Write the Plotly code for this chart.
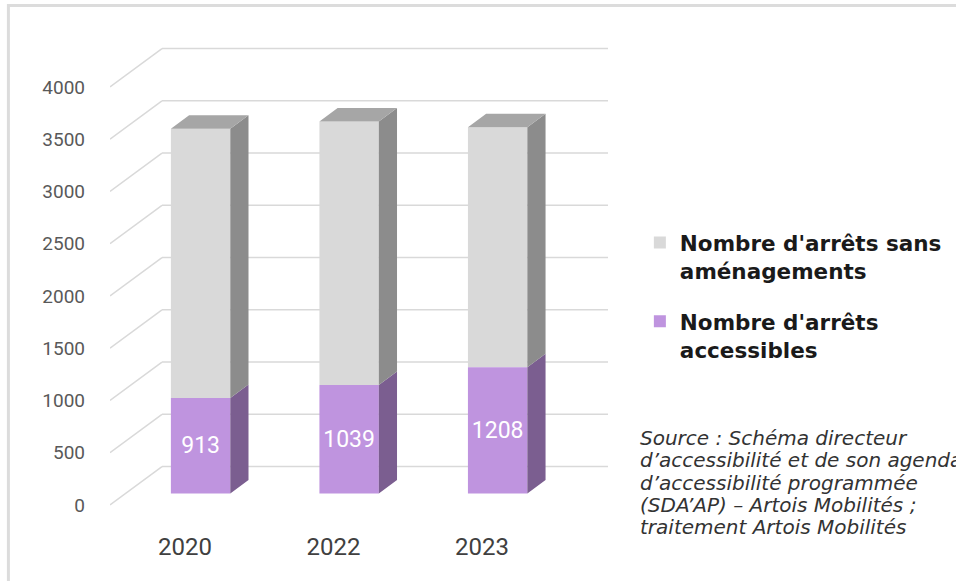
import plotly.graph_objects as go

# Données
annees = ["2020", "2022", "2023"]
accessibles = [913, 1039, 1208]
sans_amenagements = [2577, 2521, 2297]
graduations = [0, 500, 1000, 1500, 2000, 2500, 3000, 3500, 4000]

nom_sans = "Nombre d'arrêts sans<br>aménagements"
nom_acc = "Nombre d'arrêts<br>accessibles"
source_lignes = [
    "Source : Schéma directeur",
    "d’accessibilité et de son agenda",
    "d’accessibilité programmée",
    "(SDA’AP) – Artois Mobilités ;",
    "traitement Artois Mobilités",
]

# Couleurs
VIOLET, VIOLET_COTE = "#BF94DF", "#7B5E90"
GRIS, GRIS_COTE, GRIS_DESSUS = "#D9D9D9", "#8C8C8C", "#A6A6A6"
GRILLE = "#D9D9D9"

# Perspective "3D" (décalage de la profondeur en unités des axes)
DX = 0.35
DY = 368
P_AVANT, P_ARRIERE = 0.3, 0.65
LARGEUR = 0.4
X_MIN, X_MAX = -0.505, 2.848
Y_MIN, Y_MAX = -239, 4450


def proj(x, y, p):
    return x + p * DX, y + p * DY


def faces_cote(bas, haut):
    """Polygones des faces latérales (droite) pour chaque barre"""
    xs, ys = [], []
    for i, (lo, hi) in enumerate(zip(bas, haut)):
        xr = i + LARGEUR / 2
        for pt in [proj(xr, lo, P_AVANT), proj(xr, lo, P_ARRIERE),
                   proj(xr, hi, P_ARRIERE), proj(xr, hi, P_AVANT),
                   proj(xr, lo, P_AVANT)]:
            xs.append(pt[0])
            ys.append(pt[1])
        xs.append(None)
        ys.append(None)
    return xs, ys


def faces_dessus(haut):
    xs, ys = [], []
    for i, h in enumerate(haut):
        xl, xr = i - LARGEUR / 2, i + LARGEUR / 2
        for pt in [proj(xl, h, P_AVANT), proj(xr, h, P_AVANT),
                   proj(xr, h, P_ARRIERE), proj(xl, h, P_ARRIERE),
                   proj(xl, h, P_AVANT)]:
            xs.append(pt[0])
            ys.append(pt[1])
        xs.append(None)
        ys.append(None)
    return xs, ys


totaux = [a + s for a, s in zip(accessibles, sans_amenagements)]
x_avant = [proj(i, 0, P_AVANT)[0] for i in range(len(annees))]
base_avant = proj(0, 0, P_AVANT)[1]

fig = go.Figure()

fig.add_trace(go.Bar(
    x=x_avant, y=sans_amenagements,
    base=[base_avant + a for a in accessibles],
    width=LARGEUR, name=nom_sans, legendgroup="sans",
    marker=dict(color=GRIS, line=dict(width=0)),
    hoverinfo="skip",
))
fig.add_trace(go.Bar(
    x=x_avant, y=accessibles, base=[base_avant] * len(annees),
    width=LARGEUR, name=nom_acc, legendgroup="acc",
    marker=dict(color=VIOLET, line=dict(width=0)),
    text=[str(v) for v in accessibles], textposition="inside",
    insidetextanchor="middle", constraintext="none",
    textfont=dict(color="white", size=23, family="Roboto"),
    hoverinfo="skip",
))

cx, cy = faces_cote([0] * len(annees), accessibles)
fig.add_trace(go.Scatter(x=cx, y=cy, fill="toself", fillcolor=VIOLET_COTE,
                         mode="lines", line=dict(width=0), showlegend=False,
                         hoverinfo="skip"))
cx, cy = faces_cote(accessibles, totaux)
fig.add_trace(go.Scatter(x=cx, y=cy, fill="toself", fillcolor=GRIS_COTE,
                         mode="lines", line=dict(width=0), showlegend=False,
                         hoverinfo="skip"))
dx_, dy_ = faces_dessus(totaux)
fig.add_trace(go.Scatter(x=dx_, y=dy_, fill="toself", fillcolor=GRIS_DESSUS,
                         mode="lines", line=dict(width=0), showlegend=False,
                         hoverinfo="skip"))

# Quadrillage en perspective (paroi du fond + diagonales)
for v in graduations:
    x0, y0 = proj(X_MIN, v, 0)
    x1, y1 = proj(X_MIN, v, 1)
    fig.add_shape(type="line", x0=x0, y0=y0, x1=x1, y1=y1, layer="below",
                  line=dict(color=GRILLE, width=1.5))
    fig.add_shape(type="line", x0=x1, y0=y1, x1=X_MAX, y1=y1, layer="below",
                  line=dict(color=GRILLE, width=1.5))

# Cadre gris clair
fig.add_shape(type="rect", xref="paper", yref="paper",
              x0=-0.204, y0=-0.5, x1=2, y1=1.0705,
              line=dict(color="#DCDCDC", width=3))

for k, ligne in enumerate(source_lignes):
    fig.add_annotation(text=ligne, xref="paper", yref="paper",
                       x=1.0602, y=(530 - (438 + 22.3 * k)) / 490,
                       xanchor="left", yanchor="middle", showarrow=False,
                       font=dict(family="DejaVu Sans", size=20, color="#333333",
                                 style="italic", weight=300))

fig.update_layout(
    width=956, height=581,
    margin=dict(l=110, r=348, t=40, b=51, pad=0, autoexpand=False),
    paper_bgcolor="white", plot_bgcolor="white",
    barmode="overlay",
    font=dict(family="Roboto"),
    xaxis=dict(range=[X_MIN, X_MAX], tickvals=list(range(len(annees))),
               ticktext=annees, showgrid=False, zeroline=False,
               showline=False, ticks="",
               tickfont=dict(size=24, color="#404040")),
    yaxis=dict(range=[Y_MIN, Y_MAX], tickvals=graduations,
               showgrid=False, zeroline=False, showline=False, ticks="",
               ticklabelstandoff=24,
               tickfont=dict(size=19, color="#595959")),
    legend=dict(x=1.064, y=0.6286, xanchor="left", yanchor="top",
                traceorder="grouped", tracegroupgap=20,
                valign="top",
                font=dict(family="DejaVu Sans", size=21.5, color="#1A1A1A",
                          weight="bold")),
    showlegend=True,
)

# la page html a une marge de 8 px par défaut : on la retire
fig.write_html("out.html", config={"displayModeBar": False},
               post_script="document.body.style.margin='0';")
